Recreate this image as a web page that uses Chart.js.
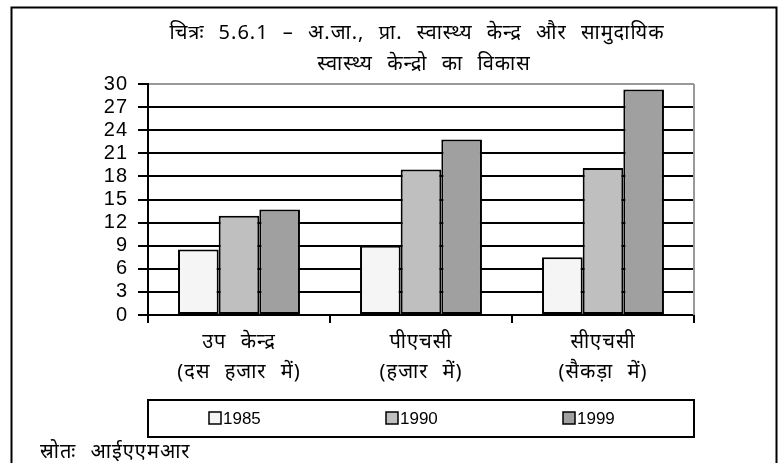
<!DOCTYPE html>
<html>
<head>
<meta charset="utf-8">
<script src="https://cdn.jsdelivr.net/npm/chart.js@4.4.0/dist/chart.umd.min.js"></script>
<style>
  html, body { margin: 0; padding: 0; background: #fff; }
  #wrap { width: 778px; height: 463px; }
</style>
</head>
<body>
<div id="wrap"><canvas id="chart" width="778" height="463"></canvas></div>
<script>
// chart data
const titleLines = ['चित्रः 5.6.1 – अ.जा., प्रा. स्वास्थ्य केन्द्र और सामुदायिक', 'स्वास्थ्य केन्द्रो का विकास']
const categories = [['उप केन्द्र', '(दस हजार में)'], ['पीएचसी', '(हजार में)'], ['सीएचसी', '(सैकड़ा में)']]
const years = ['1985', '1990', '1999']
const values1985 = [8.5, 9.0, 7.5]
const values1990 = [12.9, 18.9, 19.1]
const values1999 = [13.7, 22.8, 29.3]
const yTicks = [0, 3, 6, 9, 12, 15, 18, 21, 24, 27, 30]
const sourceText = 'स्रोतः आईएएमआर'

const barColors = ['#f5f5f5', '#bfbfbf', '#a0a0a0']
const latinFont = '"Liberation Sans", Arial, sans-serif'
const hindiFont = '"Noto Sans", "Liberation Sans", sans-serif'

const makeDataset = (label, data, i) => ({
    label: label,
    data: data,
    backgroundColor: barColors[i],
    borderColor: '#000',
    borderWidth: 2,
    borderSkipped: false,
    barPercentage: 1,
    categoryPercentage: 0.67,
})

// outer frame, title, legend box and source line
const framePlugin = {
    id: 'frame',
    beforeDraw: (chart) => {
        const ctx = chart.ctx
        ctx.fillStyle = '#fff'
        ctx.fillRect(0, 0, chart.width, chart.height)
        ctx.strokeStyle = '#000'
        ctx.lineWidth = 2
        ctx.strokeRect(11.5, 7.5, 765, 500)
        // the hindi text in the original is widely spaced
        ctx.letterSpacing = '1px'
        ctx.wordSpacing = '8px'
    },
    beforeDatasetsDraw: (chart) => {
        const ctx = chart.ctx
        const a = chart.chartArea
        ctx.save()
        ctx.strokeStyle = '#999'
        ctx.lineWidth = 2
        ctx.beginPath()
        ctx.moveTo(a.right, a.top)
        ctx.lineTo(a.right, a.bottom)
        ctx.stroke()
        ctx.restore()
    },
    afterDraw: (chart) => {
        const ctx = chart.ctx
        const a = chart.chartArea
        ctx.save()
        ctx.fillStyle = '#000'
        ctx.textAlign = 'center'
        ctx.textBaseline = 'middle'
        ctx.font = '20px ' + hindiFont
        ctx.fillText(titleLines[0], 417, 33)
        ctx.fillText(titleLines[1], 424, 64)

        // legend
        ctx.letterSpacing = '0px'
        ctx.wordSpacing = '0px'
        ctx.strokeStyle = '#000'
        ctx.lineWidth = 2
        ctx.strokeRect(a.left, 400, a.right - a.left, 37)
        ctx.font = '17px ' + latinFont
        ctx.textAlign = 'left'
        chart.data.datasets.forEach((ds, i) => {
            const x = a.left + 61 + i * 177
            ctx.fillStyle = ds.backgroundColor
            ctx.fillRect(x, 412, 12, 12)
            ctx.lineWidth = 1.5
            ctx.strokeRect(x, 412, 12, 12)
            ctx.fillStyle = '#000'
            ctx.fillText(ds.label, x + 14, 419)
        })

        ctx.letterSpacing = '1px'
        ctx.wordSpacing = '8px'
        ctx.font = '20px ' + hindiFont
        ctx.fillText(sourceText, 40, 452)
        ctx.restore()
    },
}

const chart = new Chart(document.getElementById('chart'), {
    type: 'bar',
    data: {
        labels: categories,
        datasets: [
            makeDataset(years[0], values1985, 0),
            makeDataset(years[1], values1990, 1),
            makeDataset(years[2], values1999, 2),
        ],
    },
    options: {
        responsive: false,
        devicePixelRatio: 1,
        animation: false,
        layout: { padding: { top: 84, right: 84, left: 0, bottom: 0 } },
        plugins: {
            legend: { display: false },
            title: { display: false },
            tooltip: { enabled: false },
        },
        scales: {
            x: {
                offset: true,
                afterFit: (scale) => { scale.height = 148 },
                grid: {
                    offset: true,
                    drawOnChartArea: false,
                    drawTicks: true,
                    tickLength: 8,
                    color: '#000',
                    lineWidth: 2,
                },
                border: { display: true, color: '#000', width: 2 },
                ticks: {
                    color: '#000',
                    padding: 4,
                    maxRotation: 0,
                    font: { family: hindiFont, size: 20, lineHeight: 1.5 },
                },
            },
            y: {
                min: 0,
                max: 30,
                afterFit: (scale) => { scale.width = 148 },
                afterBuildTicks: (scale) => {
                    scale.ticks = yTicks.map(v => ({ value: v }))
                },
                grid: {
                    color: (c) => (c.tick && c.tick.value === 30 ? '#999' : '#000'),
                    tickColor: '#000',
                    lineWidth: 2,
                    tickLength: 10,
                },
                border: { display: true, color: '#000', width: 2 },
                ticks: {
                    color: '#000',
                    padding: 10,
                    autoSkip: false,
                    font: { family: latinFont, size: 20 },
                },
            },
        },
    },
    plugins: [framePlugin],
})
</script>
</body>
</html>
